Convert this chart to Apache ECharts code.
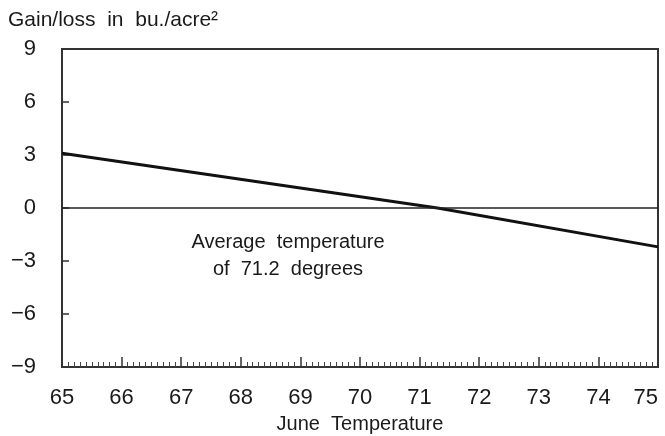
<!DOCTYPE html>
<html>
<head>
<meta charset="utf-8">
<style>
  html, body { margin: 0; padding: 0; background: #fff; }
  #chart { width: 665px; height: 436px; }
</style>
<script src="https://cdn.jsdelivr.net/npm/echarts@6/dist/echarts.min.js"></script>
</head>
<body>
<div id="chart"></div>
<script>
// June temperature (deg F) vs yield gain/loss
const temps = [65, 71.3, 75]
const gainLoss = [3.1, 0, -2.2]
const yTicks = [-9, -6, -3, 0, 3, 6, 9]
const avgNote = ['Average  temperature', 'of  71.2  degrees']

const font = '"Liberation Sans", Arial, Helvetica, sans-serif'
const ink = '#1a1a1a'

const myChart = echarts.init(document.getElementById('chart'))

myChart.setOption({
  animation: false,
  backgroundColor: '#fff',
  grid: {
    left: 62,
    right: 7,
    top: 49,
    bottom: 69,
    outerBoundsMode: 'none',
    containLabel: false,
    show: true,
    borderColor: '#333',
    borderWidth: 2
  },
  graphic: [
    {
      type: 'text',
      x: 8,
      y: 10,
      style: {
        text: 'Gain/loss  in  bu./acre²',
        font: '21px ' + font,
        fill: ink
      }
    },
    {
      type: 'text',
      x: 288,
      y: 229,
      style: {
        text: avgNote.join('\n'),
        font: '20px ' + font,
        fill: ink,
        align: 'center',
        lineHeight: 27
      }
    }
  ],
  xAxis: {
    type: 'value',
    min: 65,
    max: 75,
    interval: 1,
    name: 'June  Temperature',
    nameLocation: 'middle',
    nameGap: 47,
    nameTextStyle: { color: ink, fontSize: 20, fontFamily: font },
    axisLine: { show: true, onZero: false, lineStyle: { color: '#333', width: 2 } },
    axisTick: { show: true, inside: true, length: 10, lineStyle: { color: '#333', width: 1.5 } },
    minorTick: { show: true, splitNumber: 10, length: 5, lineStyle: { color: '#444', width: 1 } },
    axisLabel: { color: ink, fontSize: 22, fontFamily: font, margin: 20, alignMaxLabel: 'right' },
    splitLine: { show: false }
  },
  yAxis: {
    type: 'value',
    min: -9,
    max: 9,
    interval: 3,
    axisLine: { show: true, onZero: false, lineStyle: { color: '#333', width: 2 } },
    axisTick: { show: true, inside: true, length: 7, lineStyle: { color: '#333', width: 1.5 } },
    axisLabel: {
      color: ink,
      fontSize: 22,
      fontFamily: font,
      margin: 26,
      formatter: (v) => yTicks.includes(v) ? String(v).replace('-', '\u2212') : ''
    },
    splitLine: { show: false }
  },
  series: [
    {
      type: 'line',
      data: temps.map((t, i) => [t, gainLoss[i]]),
      symbol: 'none',
      lineStyle: { color: '#111', width: 3 },
      markLine: {
        silent: true,
        symbol: 'none',
        label: { show: false },
        lineStyle: { color: '#222', width: 1.5, type: 'solid' },
        data: [{ yAxis: 0 }]
      }
    }
  ]
})
</script>
</body>
</html>
